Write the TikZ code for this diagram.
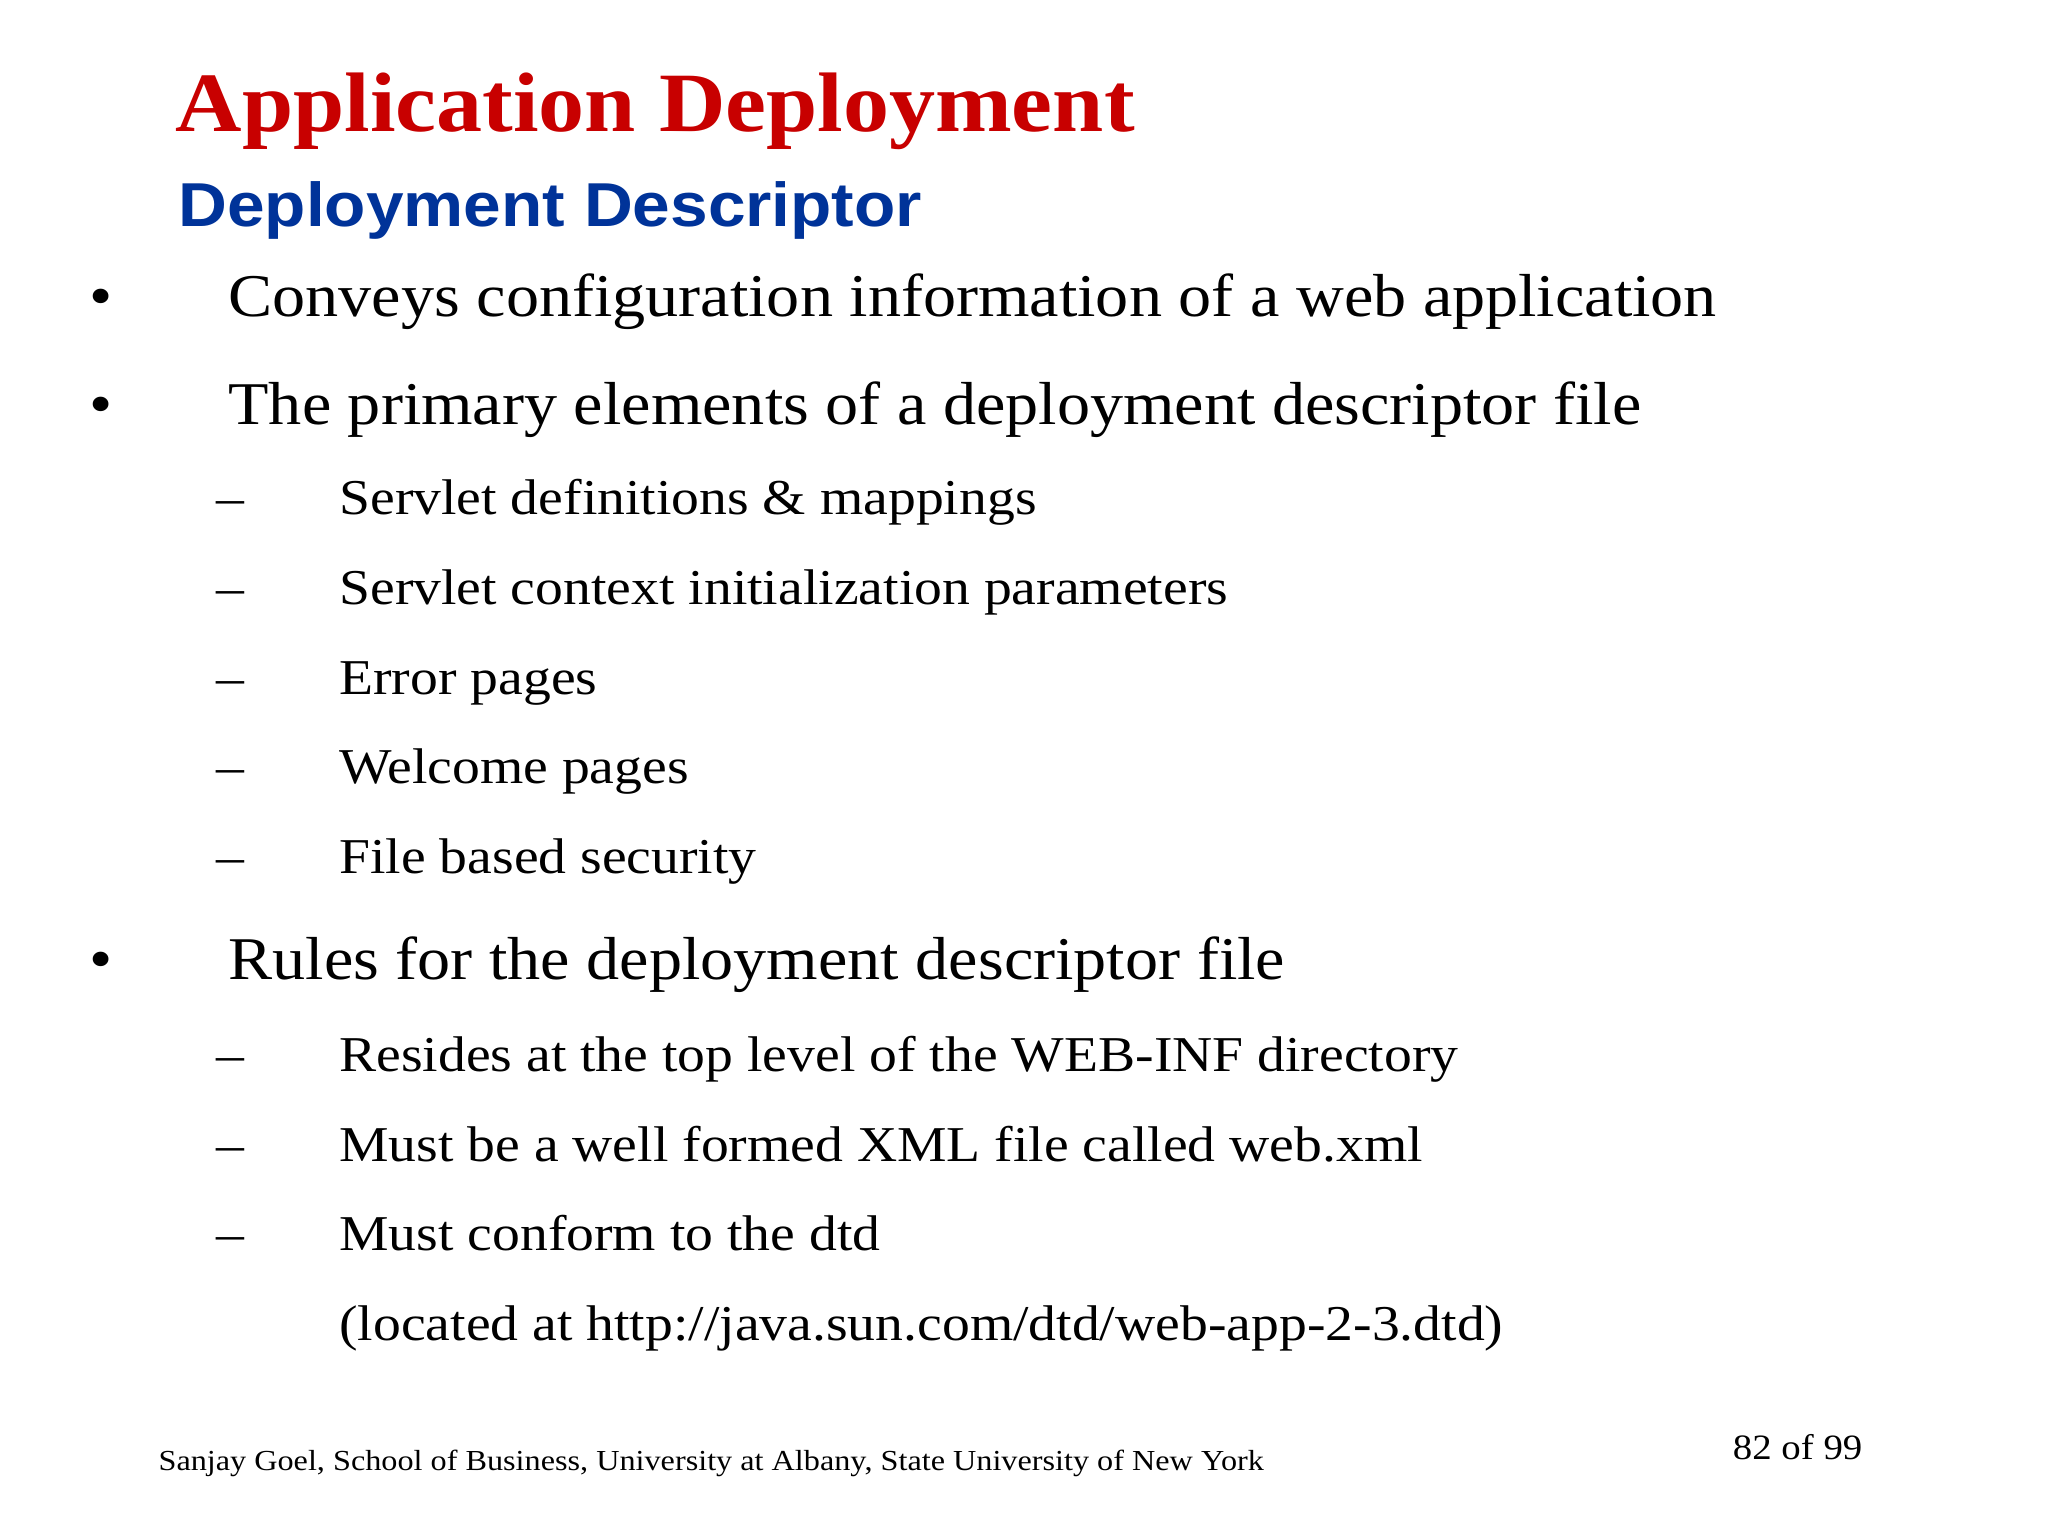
\documentclass[tikz,border=0pt]{standalone}
\usepackage{fontspec}
\setmainfont[FakeStretch=1.09]{Liberation Serif}
\newfontfamily\widesmall[FakeStretch=1.11]{Liberation Serif}
\newfontfamily\subsans[FakeStretch=1.09]{Liberation Sans}
\definecolor{tred}{RGB}{200,0,0}
\definecolor{tblue}{RGB}{0,51,153}
\begin{document}
\begin{tikzpicture}[x=1pt,y=-1pt,
  every node/.style={anchor=base west,inner sep=0pt},
  big/.style={font=\fontsize{46}{50}\selectfont},
  small/.style={font=\widesmall\fontsize{38}{42}\selectfont}]
\useasboundingbox (0,0) rectangle (1552,1164);
\node[text=tred,font=\fontsize{64}{70}\selectfont\bfseries] (t) at (133,100) {Application Deployment};
\node[text=tblue,font=\subsans\fontsize{47}{52}\selectfont\bfseries] (s) at (135,172) {Deployment Descriptor};
\foreach \y/\n/\t in {240/b1/{Conveys configuration information of a web application},
  322/b2/{The primary elements of a deployment descriptor file},
  742/b3/{Rules for the deployment descriptor file}}{
  \node[big] at (68,\y) {•};
  \node[big] (\n) at (173,\y) {\t};
}
\foreach \y/\n/\t in {390/s1/{Servlet definitions \& mappings},
  458/s2/{Servlet context initialization parameters},
  526/s3/{Error pages},
  594/s4/{Welcome pages},
  662/s5/{File based security},
  812/s6/{Resides at the top level of the WEB-INF directory},
  880/s7/{Must be a well formed XML file called web.xml},
  948/s8/{Must conform to the dtd}}{
  \node[small] at (164,\y) {–};
  \node[small] (\n) at (257,\y) {\t};
}
\node[small] (s9) at (257,1016) {(located at http://java.sun.com/dtd/web-app-2-3.dtd)};
\node[font=\widesmall\fontsize{22}{26}\selectfont] (f) at (120,1114) {Sanjay Goel, School of Business, University at Albany, State University of New York};
\node[font=\fontsize{27}{30}\selectfont] (p) at (1313,1106) {82 of 99};
\end{tikzpicture}
\end{document}
